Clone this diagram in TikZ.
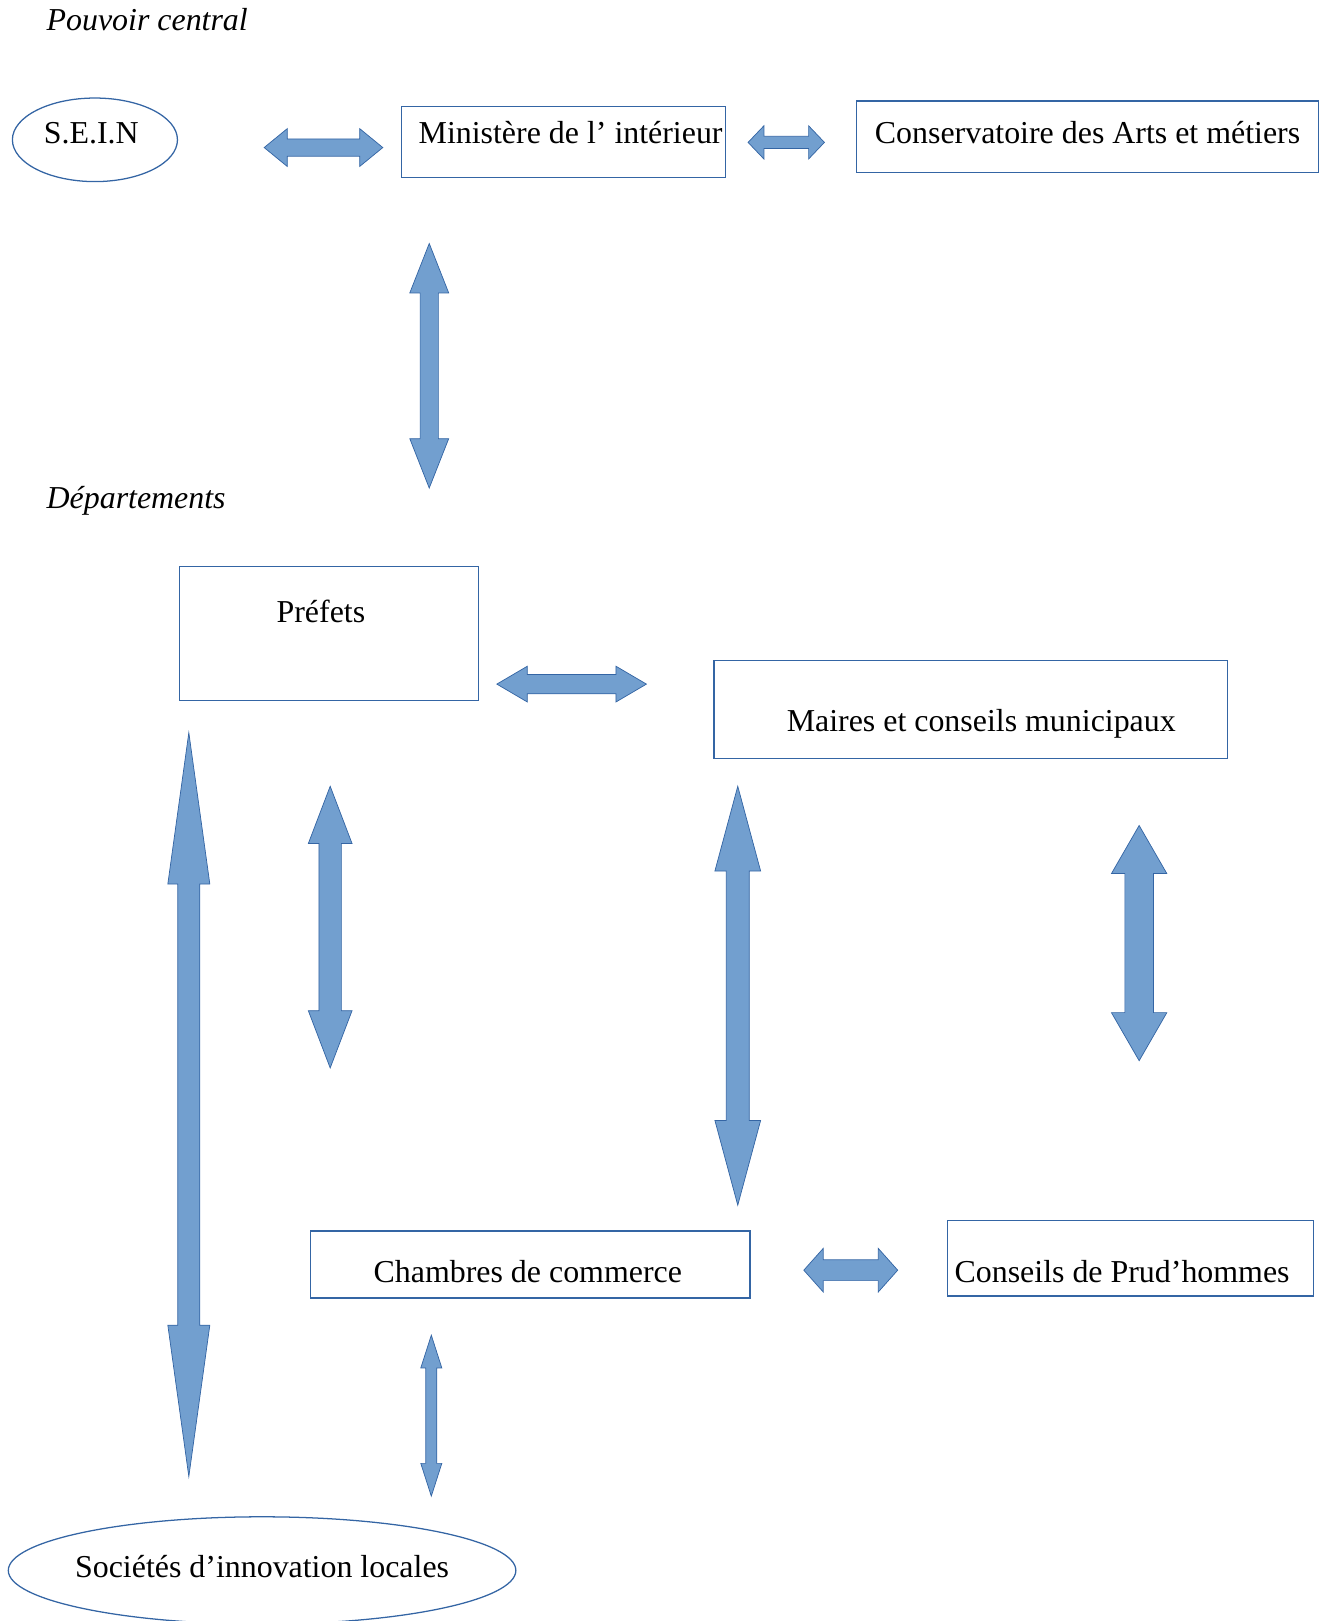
\documentclass[tikz,border=0pt]{standalone}
\usepackage{fontspec}
\setmainfont{Liberation Serif}
\usetikzlibrary{shapes.geometric,shapes.arrows}
\definecolor{trait}{HTML}{3465A4}
\definecolor{remplissage}{HTML}{729FCF}
\begin{document}
\begin{tikzpicture}[x=0.02cm, y=-0.02cm, every node/.style={font=\fontsize{17.6}{20}\selectfont}]
		\tikzstyle{block} = [rectangle,draw=trait,line width=0.7pt,inner sep=0pt]
		\tikzstyle{bulle} = [ellipse,draw=trait,line width=0.7pt,inner sep=0pt]
		\tikzstyle{fleche} = [double arrow,fill=remplissage,draw=trait,line width=0.4pt,inner sep=0pt,double arrow head indent=0pt]
		\useasboundingbox (0,0) rectangle (1280,1571);
		\node[anchor=base west,font=\fontsize{17.6}{20}\selectfont\itshape](central)at (39,30){Pouvoir central};
		\node[anchor=base west,font=\fontsize{17.6}{20}\selectfont\itshape](depart)at (39,493){Départements};
		\node[bulle,minimum width=3.2cm,minimum height=1.62cm,text height=0.5cm,text depth=0.36cm](sein)at (92,135.5){S.E.I.N\hspace{0.14cm}\null};
		\node[block,minimum width=6.28cm,minimum height=1.38cm,text height=0.5cm,text depth=0.44cm](ministere)at (546,137.5){\hspace{0.28cm}Ministère de l’ intérieur};
		\node[block,minimum width=8.96cm,minimum height=1.38cm,text height=0.5cm,text depth=0.24cm](conserv)at (1054,132.5){Conservatoire des Arts et métiers};
		\node[block,minimum width=5.8cm,minimum height=2.6cm,text height=0.5cm,text depth=0.94cm](prefets)at (319,614){Préfets\hspace{0.32cm}\null};
		\node[block,minimum width=9.96cm,minimum height=1.9cm,text height=0.98cm,text depth=0.12cm](maires)at (941,687.5){\hspace{0.4cm}Maires et conseils municipaux};
		\node[block,minimum width=8.52cm,minimum height=1.3cm,text height=0.7cm,text depth=0cm](chambres)at (514,1225.5){Chambres de commerce\hspace{0.1cm}\null};
		\node[block,minimum width=7.1cm,minimum height=1.46cm,text height=0.94cm,text depth=0cm](prudhommes)at (1095.5,1219.5){Conseils de Prud’hommes\hspace{0.32cm}\null};
		\node[bulle,inner xsep=-0.15cm,minimum width=9.84cm,minimum height=2.08cm,text height=0.5cm,text depth=0.22cm](societes)at (254,1522){Sociétés d’innovation locales};
		% fleches
		\node[fleche,minimum height=2.3cm,inner ysep=0.16cm,double arrow head extend=0.2cm,double arrow tip angle=78.6](sein-min)at (313.5,143){};
		\node[fleche,minimum height=1.48cm,inner ysep=0.11cm,double arrow head extend=0.205cm,double arrow tip angle=92.8](min-cons)at (762,138){};
		\node[fleche,rotate=90,minimum height=4.74cm,inner ysep=0.17cm,double arrow head extend=0.2cm,double arrow tip angle=43](min-dep)at (416,354.5){};
		\node[fleche,minimum height=2.9cm,inner ysep=0.18cm,double arrow head extend=0.16cm,double arrow tip angle=60.8](pref-maires)at (554,663){};
		\node[fleche,rotate=90,minimum height=14.42cm,inner ysep=0.206cm,double arrow head extend=0.194cm,double arrow tip angle=15.8](pref-soc)at (183,1070.5){};
		\node[fleche,rotate=90,minimum height=5.46cm,inner ysep=0.21cm,double arrow head extend=0.207cm,double arrow tip angle=41.8](pref-ch)at (320,898.5){};
		\node[fleche,rotate=90,minimum height=8.12cm,inner ysep=0.216cm,double arrow head extend=0.22cm,double arrow tip angle=30.2](maires-ch)at (715,965){};
		\node[fleche,rotate=90,minimum height=4.56cm,inner ysep=0.27cm,double arrow head extend=0.26cm,double arrow tip angle=59.9](maires-prud)at (1104,914){};
		\node[fleche,minimum height=1.82cm,inner ysep=0.195cm,double arrow head extend=0.22cm,double arrow tip angle=96.6](ch-prud)at (824.5,1231){};
		\node[fleche,rotate=90,minimum height=3.12cm,inner ysep=0.1cm,double arrow head extend=0.097cm,double arrow tip angle=35.6](ch-soc)at (418,1372){};
\end{tikzpicture}
\end{document}
